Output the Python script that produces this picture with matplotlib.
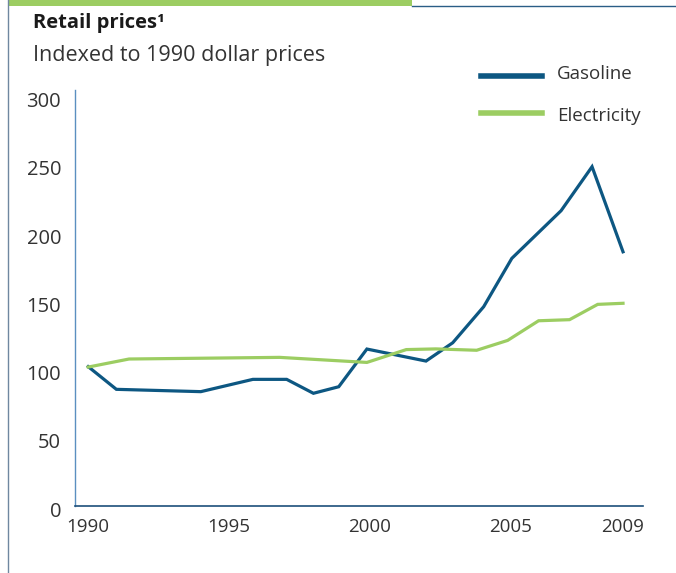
import matplotlib.pyplot as plt
from matplotlib.lines import Line2D
from matplotlib.patches import Rectangle
from matplotlib.transforms import ScaledTranslation

plt.rcParams['font.family'] = ['Open Sans', 'DejaVu Sans']

# Datos
gas_years = [1990, 1991, 1994, 1995.85, 1997.05, 1998, 1998.9, 1999.9, 2002, 2002.95, 2004.05, 2005.05, 2006.8, 2007.9, 2009]
gas_values = [101.8, 85.2, 83.5, 92.5, 92.5, 82.3, 87.1, 114.7, 105.9, 119.3, 145.7, 181.1, 216, 248.2, 185.9]

elec_years = [1990, 1991.45, 1996.8, 1999.9, 2001.3, 2002.35, 2003.8, 2004.9, 2006.0, 2007.1, 2008.1, 2009]
elec_values = [101.5, 107.4, 108.6, 104.9, 114.3, 114.8, 113.8, 121.0, 135.4, 136.2, 147.4, 148.2]

x_ticks = [1990, 1995, 2000, 2005, 2009]
y_ticks = [0, 50, 100, 150, 200, 250, 300]

gas_color = '#0d5782'
elec_color = '#9ccd62'
text_color = '#333333'

fig = plt.figure(figsize=(6.76, 5.73), dpi=100)

# marco exterior
fig.add_artist(Rectangle((8 / 676, 1 - 6 / 573), (412 - 8) / 676, 6 / 573,
                         transform=fig.transFigure, color=elec_color, lw=0))
fig.add_artist(Line2D([412 / 676, 1], [1 - 5.5 / 573] * 2, transform=fig.transFigure,
                      color='#2a5d86', lw=1.0))
fig.add_artist(Line2D([8 / 676] * 2, [0, 1], transform=fig.transFigure,
                      color='#6f87a0', lw=1.0))

ax = fig.add_axes([75 / 676, 67.3 / 573, (643 - 75) / 676, (505.7 - 89.8) / 573])
ax.plot(gas_years, gas_values, color=gas_color, lw=2.3, solid_joinstyle='miter')
ax.plot(elec_years, elec_values, color=elec_color, lw=2.3, solid_joinstyle='miter')

ax.set_xlim(1989.53, 2009.71)
ax.set_ylim(0, 304.5)
ax.set_xticks(x_ticks)
ax.set_xticklabels([str(t) for t in x_ticks])
ax.set_yticks(y_ticks)
ax.tick_params(axis='both', length=0, labelsize=14.5, colors=text_color)
ax.tick_params(axis='y', pad=10)
ax.tick_params(axis='x', pad=9, labelsize=13.5)
# etiquetas del eje y un poco por debajo de la marca
shift = ScaledTranslation(0, -3.5 / 100, fig.dpi_scale_trans)
for tick in ax.yaxis.get_major_ticks():
    tick.label1.set_transform(tick.label1.get_transform() + shift)
for s in ['top', 'right']:
    ax.spines[s].set_visible(False)
ax.spines['left'].set_color('#5b8fc0')
ax.spines['left'].set_linewidth(1.0)
ax.spines['bottom'].set_color('#1d4f7a')
ax.spines['bottom'].set_linewidth(1.2)

# titulos
fig.text(33 / 676, 1 - 23 / 573, 'Retail prices\u00b9', fontsize=14.5, fontweight='bold',
         color='#1a1a1a', va='center', ha='left')
fig.text(33 / 676, 1 - 56 / 573, 'Indexed to 1990 dollar prices', fontsize=15.5,
         color=text_color, va='center', ha='left')

# leyenda
fig.add_artist(Line2D([481 / 676, 542 / 676], [1 - 76 / 573] * 2, transform=fig.transFigure,
                      color=gas_color, lw=4))
fig.add_artist(Line2D([481 / 676, 542 / 676], [1 - 113 / 573] * 2, transform=fig.transFigure,
                      color=elec_color, lw=4))
fig.text(557 / 676, 1 - 74 / 573, 'Gasoline', fontsize=13.5, color=text_color, va='center')
fig.text(557 / 676, 1 - 116 / 573, 'Electricity', fontsize=13.5, color=text_color, va='center')

fig.savefig('out.png', dpi=100)
